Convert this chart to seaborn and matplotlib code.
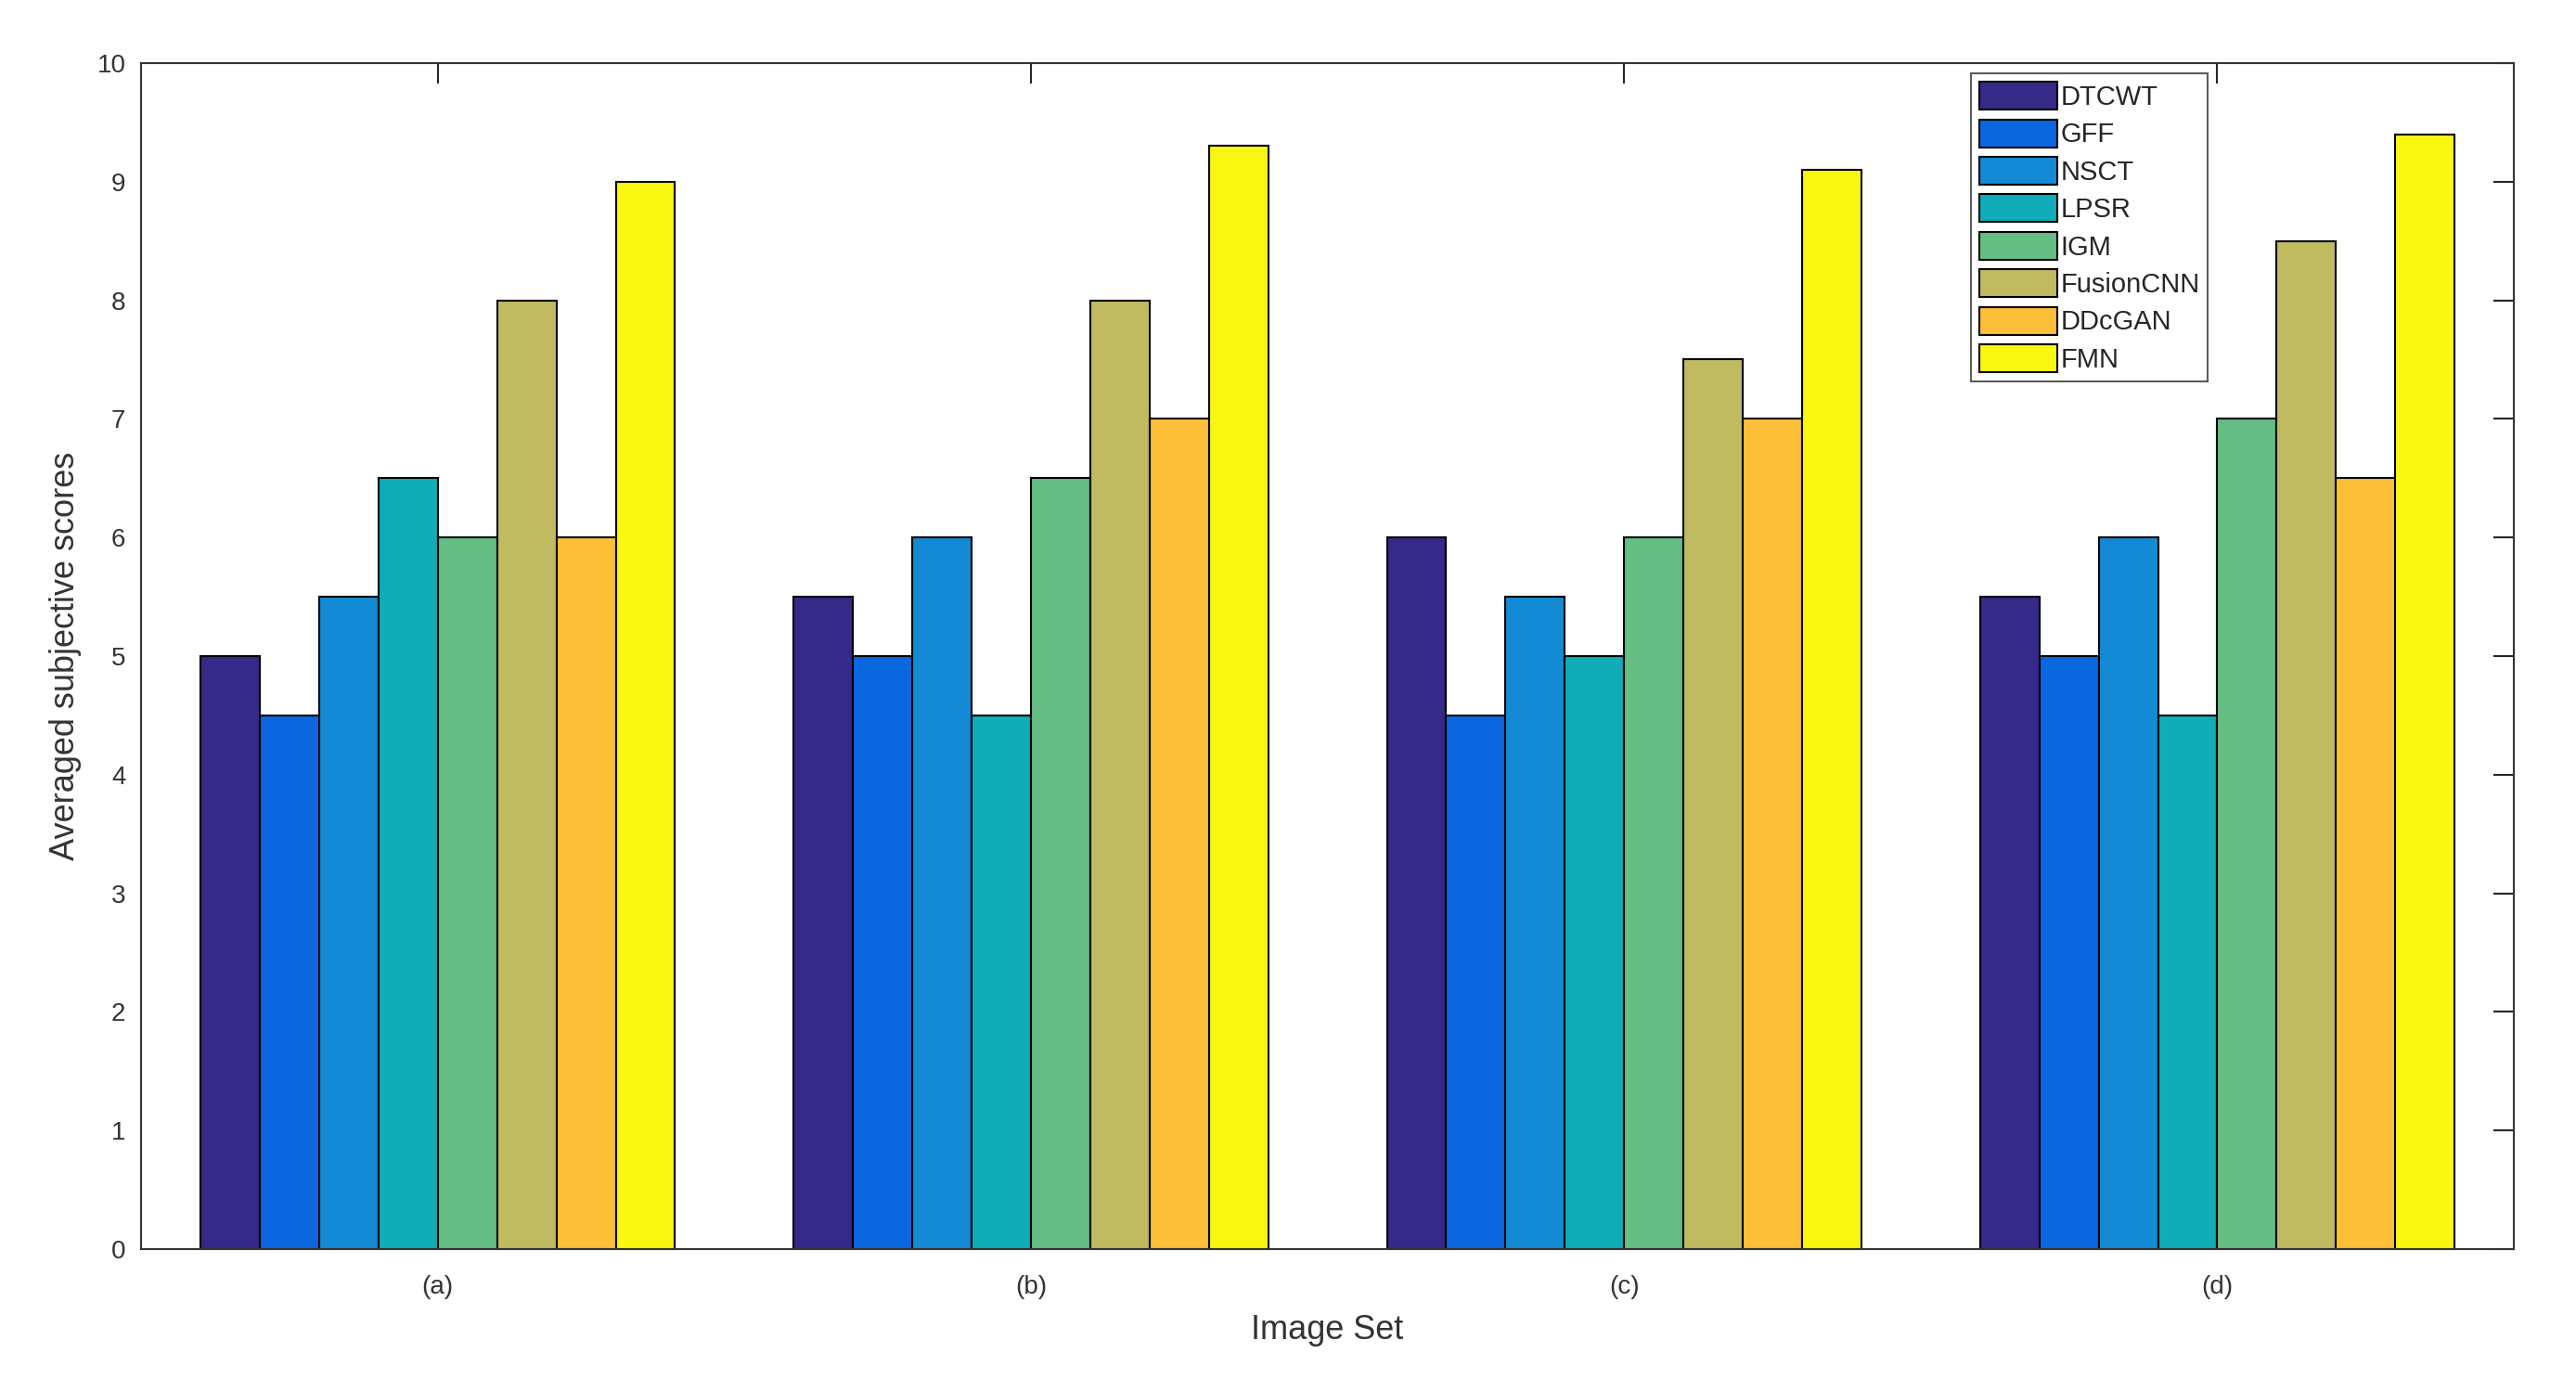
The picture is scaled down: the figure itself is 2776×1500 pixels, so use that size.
import pandas as pd
import matplotlib
matplotlib.use("Agg")
import matplotlib.pyplot as plt
import seaborn as sns

# data
image_sets = ['(a)', '(b)', '(c)', '(d)']
methods = ['DTCWT', 'GFF', 'NSCT', 'LPSR', 'IGM', 'FusionCNN', 'DDcGAN', 'FMN']
dtcwt = [5.0, 5.5, 6.0, 5.5]
gff = [4.5, 5.0, 4.5, 5.0]
nsct = [5.5, 6.0, 5.5, 6.0]
lpsr = [6.5, 4.5, 5.0, 4.5]
igm = [6.0, 6.5, 6.0, 7.0]
fusioncnn = [8.0, 8.0, 7.5, 8.5]
ddcgan = [6.0, 7.0, 7.0, 6.5]
fmn = [9.0, 9.3, 9.1, 9.4]
colors = ['#352A87', '#0A67E0', '#148AD4', '#10ACB8',
          '#64BE84', '#C0BB60', '#FDBE38', '#F7F712']

series = [dtcwt, gff, nsct, lpsr, igm, fusioncnn, ddcgan, fmn]
rows = []
for name, vals in zip(methods, series):
    for s, v in zip(image_sets, vals):
        rows.append({'Image Set': s, 'Method': name, 'Score': v})
df = pd.DataFrame(rows)

sns.set_style('white')
plt.rcParams['font.family'] = ['Liberation Sans', 'DejaVu Sans']

fig = plt.figure(figsize=(27.76, 15), dpi=100)
ax = fig.add_axes([0.0548, 0.1027, 0.9211, 0.852])

sns.barplot(data=df, x='Image Set', y='Score', hue='Method',
            order=image_sets, hue_order=methods, palette=colors,
            width=0.8, gap=0, edgecolor='black', linewidth=1.5,
            saturation=1, errorbar=None, ax=ax)

ax.set_xlim(-0.5, 3.5)
ax.set_ylim(0, 10)
ax.set_yticks(range(0, 11))
ax.set_xlabel('Image Set', fontsize=26, color='#333333', labelpad=12)
ax.set_ylabel('Averaged subjective scores', fontsize=26, color='#333333', labelpad=12)

for sp in ax.spines.values():
    sp.set_visible(True)
    sp.set_color('#333333')
    sp.set_linewidth(1.5)

ax.tick_params(axis='both', which='major', direction='in', length=16, width=1.5,
               colors='#262626', labelsize=20, top=True, right=True)
ax.tick_params(axis='x', pad=20)
ax.tick_params(axis='y', pad=12)
for lab in ax.get_xticklabels() + ax.get_yticklabels():
    lab.set_color('#333333')

leg = ax.legend(loc='upper right', bbox_to_anchor=(0.871, 0.991), fontsize=21,
                frameon=True, fancybox=False, edgecolor='#333333',
                handlelength=2.9, handleheight=1.2, handletextpad=0.1,
                labelspacing=0.33, borderpad=0.3, borderaxespad=0)
leg.get_frame().set_linewidth(1.5)

fig.savefig('out.png', dpi=100)
plt.close(fig)
